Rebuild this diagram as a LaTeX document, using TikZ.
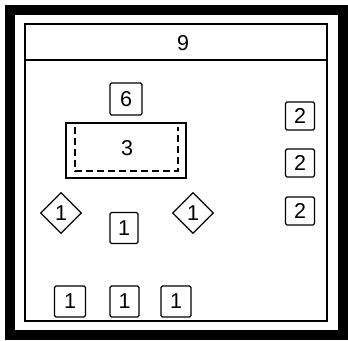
\documentclass[tikz,border=0pt]{standalone}
\usepackage{fontspec}
\setmainfont{Liberation Sans}
\usetikzlibrary{shapes.geometric}
\begin{document}
\begin{tikzpicture}[x=1pt,y=-1pt,
  lbl/.style={font=\fontsize{21.5}{25}\selectfont},
  sbox/.style={lbl,draw,line width=1.2pt,rounded corners=1.5pt,inner sep=0pt,minimum width=30pt,minimum height=30pt},
  dbox/.style={lbl,draw,line width=1.2pt,diamond,inner sep=0pt,minimum width=41pt,minimum height=41pt},
  thinline/.style={line width=1.2pt}]
\useasboundingbox (0,0) rectangle (348,340);
% outer frame
\draw[line width=10pt] (10,9.5) rectangle (343,335);
% inner panel
\draw[thinline] (25,24) rectangle (327,321);
\coordinate (tl) at (25,60);
\coordinate (tr) at (327,60);
\draw[thinline] (tl) -- (tr);
\node[lbl] (t9) at (183,43) {9};
% box 6
\node[sbox,minimum width=32pt,minimum height=32pt] (b6) at (126,99) {6};
% box 3
\node[draw,thinline,minimum width=120pt,minimum height=55pt,inner sep=0pt] (b3) at (126,150.5) {};
\node[lbl] (t3) at (127,148) {3};
\coordinate (d1) at (75,127);
\coordinate (d2) at (75,171);
\coordinate (d3) at (178,171);
\coordinate (d4) at (178,127);
\draw[thinline,dash pattern=on 7pt off 4pt] (d1) -- (d2) -- (d3) -- (d4);
% right column
\node[sbox,minimum width=29pt,minimum height=28pt] (r1) at (300,116) {2};
\node[sbox,minimum width=29pt,minimum height=28pt] (r2) at (300,163) {2};
\node[sbox,minimum width=29pt,minimum height=28pt] (r3) at (300,211) {2};
% diamonds and middle box
\node[dbox] (dl) at (61,213) {1};
\node[dbox] (dr) at (193,213) {1};
\node[sbox,minimum width=28pt,minimum height=31pt] (m1) at (124,228) {1};
% bottom row
\node[sbox,minimum width=31pt,minimum height=31pt] (a1) at (70,301.5) {1};
\node[sbox,minimum width=29pt,minimum height=31pt] (a2) at (124.5,301.5) {1};
\node[sbox,minimum width=30pt,minimum height=31pt] (a3) at (176,301.5) {1};
\end{tikzpicture}
\end{document}
